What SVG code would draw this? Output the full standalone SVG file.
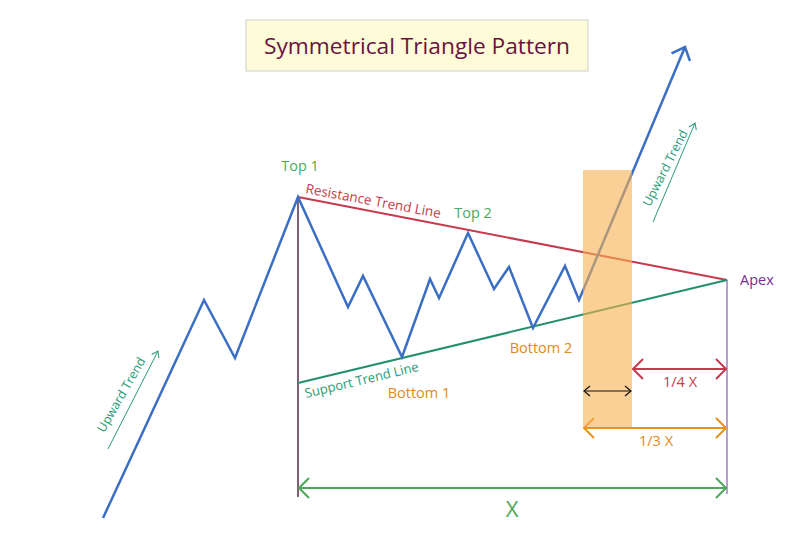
<svg xmlns="http://www.w3.org/2000/svg" width="800" height="548" viewBox="0 0 800 548">
<style>
.lbl{font-family:"Open Sans","Liberation Sans",sans-serif;}
.green{fill:#4ea85a}
.orange{fill:#e08a22}
.red{fill:#c63a4c}
.teal{fill:#2a9a78}
.purple{fill:#7b2d8e}
</style>
<defs>
<marker id="chevBlue" viewBox="-12 -12 14 24" markerWidth="14" markerHeight="24" refX="0" refY="0" orient="auto-start-reverse" markerUnits="userSpaceOnUse">
<path d="M-11,-10 L0,0 L-11,10" fill="none" stroke="#3b6fc4" stroke-width="2.5"/>
</marker>
<marker id="chevGreen" viewBox="-12 -12 14 24" markerWidth="14" markerHeight="24" refX="0" refY="0" orient="auto-start-reverse" markerUnits="userSpaceOnUse">
<path d="M-10,-10 L0,0 L-10,10" fill="none" stroke="#4ea85a" stroke-width="2"/>
</marker>
<marker id="chevRed" viewBox="-12 -12 14 24" markerWidth="14" markerHeight="24" refX="0" refY="0" orient="auto-start-reverse" markerUnits="userSpaceOnUse">
<path d="M-10,-10 L0,0 L-10,10" fill="none" stroke="#c63a4c" stroke-width="2"/>
</marker>
<marker id="chevOrange" viewBox="-12 -12 14 24" markerWidth="14" markerHeight="24" refX="0" refY="0" orient="auto-start-reverse" markerUnits="userSpaceOnUse">
<path d="M-10,-10 L0,0 L-10,10" fill="none" stroke="#e8921e" stroke-width="2"/>
</marker>
<marker id="chevBlack" viewBox="-8 -7 10 14" markerWidth="10" markerHeight="14" refX="0" refY="0" orient="auto-start-reverse" markerUnits="userSpaceOnUse">
<path d="M-6,-5 L0,0 L-6,5" fill="none" stroke="#111" stroke-width="1.2"/>
</marker>
<marker id="chevTeal" viewBox="-8 -7 10 14" markerWidth="10" markerHeight="14" refX="0" refY="0" orient="auto" markerUnits="userSpaceOnUse">
<path d="M-6,-4 L0,0 L-6,4" fill="none" stroke="#2a9a78" stroke-width="1"/>
</marker>
</defs>
<rect width="800" height="548" fill="#ffffff"/>

<g id="title">
<rect x="246" y="20" width="342" height="51" fill="#fdfbd8" stroke="#cfcfcf" stroke-width="1"/>
<text x="417" y="54" text-anchor="middle" class="lbl" font-size="22" fill="#6a1242" textLength="306" lengthAdjust="spacingAndGlyphs">Symmetrical Triangle Pattern</text>
</g>

<g id="connectors">
<line id="vline-left" x1="298" y1="197" x2="298" y2="497" stroke="#3a1030" stroke-width="1.3"/>
<line id="vline-apex" x1="727" y1="280" x2="727" y2="494" stroke="#a488c0" stroke-width="1.6"/>
<line id="resistance" x1="298" y1="197" x2="727" y2="280" stroke="#c63a4c" stroke-width="2"/>
<line id="support" x1="298" y1="383" x2="727" y2="280" stroke="#238f6e" stroke-width="2"/>
<polyline id="price" points="103,518 204,300 235,358 298,197 348,307 363,276 402,357 430,279 439,298 468,233 494,289 509,267 533,328 565,266 579,300 685,47" fill="none" stroke="#3b6fc4" stroke-width="2.5" stroke-linejoin="miter" marker-end="url(#chevBlue)"/>
<line id="arrow-x" x1="299" y1="488" x2="726" y2="488" stroke="#4ea85a" stroke-width="2" marker-start="url(#chevGreen)" marker-end="url(#chevGreen)"/>
<line id="arrow-quarter" x1="633" y1="369" x2="726" y2="369" stroke="#c63a4c" stroke-width="2" marker-start="url(#chevRed)" marker-end="url(#chevRed)"/>
<line id="arrow-third" x1="584" y1="428" x2="726" y2="428" stroke="#e8921e" stroke-width="2" marker-start="url(#chevOrange)" marker-end="url(#chevOrange)"/>
<line id="trend-left" x1="108" y1="449" x2="158" y2="351" stroke="#2a9a78" stroke-width="1" marker-end="url(#chevTeal)"/>
<line id="trend-right" x1="653" y1="222" x2="695" y2="123" stroke="#2a9a78" stroke-width="1" marker-end="url(#chevTeal)"/>
</g>

<g id="breakout-zone">
<rect x="583" y="170" width="49" height="257" fill="#f9b050" fill-opacity="0.6"/>
<line id="arrow-small" x1="584" y1="391" x2="631" y2="391" stroke="#111" stroke-width="1.2" marker-start="url(#chevBlack)" marker-end="url(#chevBlack)"/>
</g>

<g id="labels">
<text x="300" y="171" text-anchor="middle" class="lbl green" font-size="14.5">Top 1</text>
<text x="473" y="218" text-anchor="middle" class="lbl green" font-size="14.5">Top 2</text>
<text x="305" y="193" class="lbl red" font-size="13.5" transform="rotate(10.5 305 193)">Resistance Trend Line</text>
<text x="306" y="398" class="lbl teal" font-size="13" transform="rotate(-13.5 306 398)">Support Trend Line</text>
<text x="419" y="398" text-anchor="middle" class="lbl orange" font-size="14.5">Bottom 1</text>
<text x="541" y="353" text-anchor="middle" class="lbl orange" font-size="14.5">Bottom 2</text>
<text x="740" y="285" class="lbl purple" font-size="14.5">Apex</text>
<text x="680" y="387" text-anchor="middle" class="lbl red" font-size="14.5">1/4 X</text>
<text x="656" y="446" text-anchor="middle" class="lbl orange" font-size="14.5">1/3 X</text>
<text x="512" y="517" text-anchor="middle" class="lbl green" font-size="22">X</text>
<text x="0" y="0" text-anchor="middle" class="lbl teal" font-size="12.5" transform="translate(125 397) rotate(-60)">Upward Trend</text>
<text x="0" y="0" text-anchor="middle" class="lbl teal" font-size="12.5" transform="translate(669 170) rotate(-63)">Upward Trend</text>
</g>
</svg>
